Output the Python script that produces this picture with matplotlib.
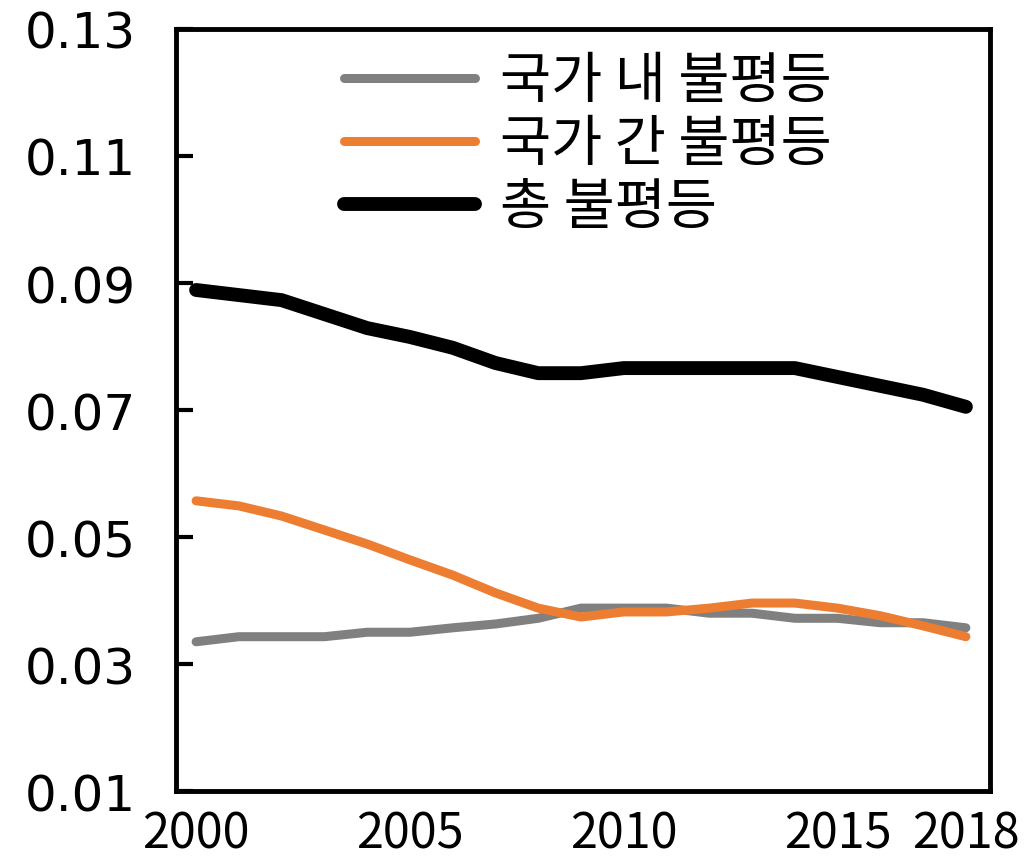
import numpy as np
import matplotlib
matplotlib.use("Agg")
import matplotlib.pyplot as plt

plt.rcParams['font.family'] = ['Noto Sans CJK KR', 'DejaVu Sans']

years = list(range(2000, 2019))
within = [0.0335, 0.0343, 0.0343, 0.0343, 0.0350, 0.0350, 0.0357, 0.0363, 0.0372, 0.0388,
          0.0388, 0.0388, 0.0380, 0.0380, 0.0372, 0.0372, 0.0365, 0.0365, 0.0357]
between = [0.0557, 0.0549, 0.0533, 0.0511, 0.0489, 0.0464, 0.0440, 0.0412, 0.0388, 0.0374,
           0.0382, 0.0382, 0.0388, 0.0396, 0.0396, 0.0388, 0.0376, 0.0360, 0.0343]
total = [0.0889, 0.0881, 0.0873, 0.0851, 0.0829, 0.0815, 0.0798, 0.0774, 0.0758, 0.0758,
         0.0766, 0.0766, 0.0766, 0.0766, 0.0766, 0.0752, 0.0738, 0.0724, 0.0705]
labels = ['국가 내 불평등', '국가 간 불평등', '총 불평등']
xticks = [2000, 2005, 2010, 2015, 2018]
yticks = [0.01, 0.03, 0.05, 0.07, 0.09, 0.11, 0.13]

fig = plt.figure(figsize=(10.25, 8.62), dpi=100)
ax = fig.add_axes([0.1717, 0.0812, 0.794, 0.884])

ax.plot(years, within, color='#808080', lw=6.5, solid_capstyle='round', label=labels[0])
ax.plot(years, between, color='#ED7D31', lw=6.5, solid_capstyle='round', label=labels[1])
ax.plot(years, total, color='#000000', lw=10, solid_capstyle='round', label=labels[2])

ax.set_xlim(1999.53, 2018.56)
ax.set_ylim(0.01, 0.13)
ax.set_xticks(xticks)
ax.set_xticklabels([str(x) for x in xticks], fontsize=35)
ax.set_yticks(yticks)
ax.set_yticklabels(['%.2f' % y for y in yticks], family='DejaVu Sans', fontsize=36)
ax.tick_params(axis='y', direction='in', length=12, width=3, pad=29)
ax.tick_params(axis='x', length=0, pad=13)
for s in ax.spines.values():
    s.set_linewidth(3.5)

leg = ax.legend(loc='upper center', bbox_to_anchor=(0.506, 1.027), frameon=False, fontsize=40,
                handlelength=2.35, handletextpad=0.45, labelspacing=0.1, borderpad=0.3)

fig.savefig('out.png', dpi=100)
